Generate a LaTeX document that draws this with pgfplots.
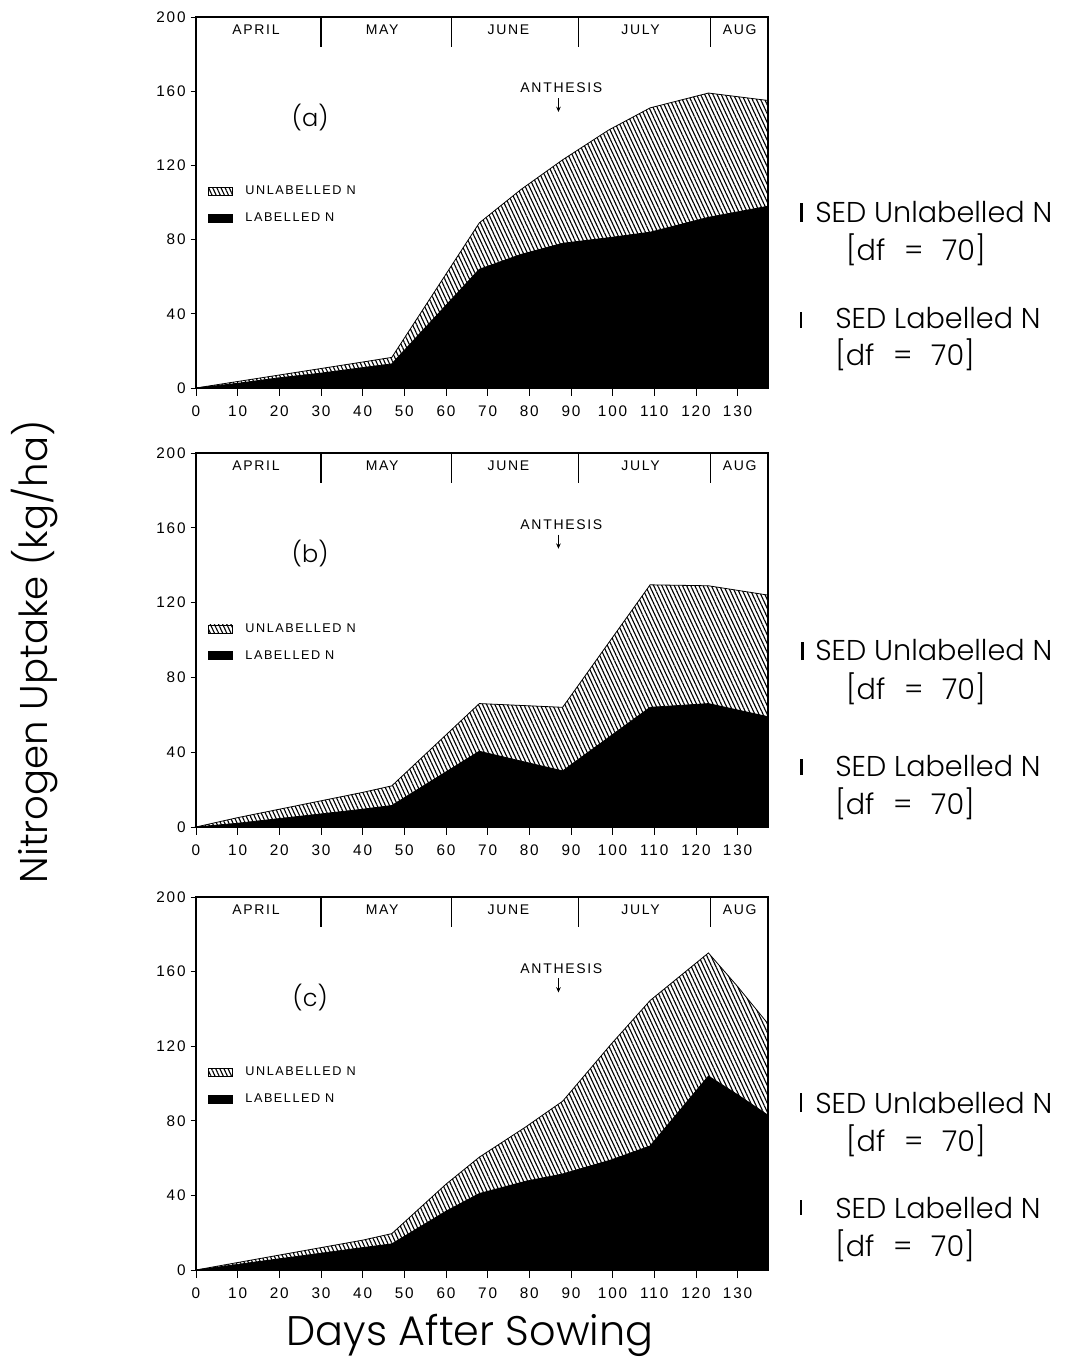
\documentclass[border=0pt]{standalone}
\usepackage{fontspec}
\setmainfont{Liberation Sans}
\IfFontExistsTF{Poppins Light}{\newfontfamily\gfont{Poppins Light}}{\newfontfamily\gfont{Poppins}}
\newfontfamily\spfont[LetterSpace=12]{Liberation Sans}
\usepackage{pgfplots}
\pgfplotsset{compat=1.18}
\usetikzlibrary{patterns.meta, arrows.meta}

\newcommand{\monthfont}{\spfont\fontsize{10.5}{12}\selectfont}
\newcommand{\sedfont}{\gfont\fontsize{21.5}{24}\selectfont}
\newcommand{\df}{[df\hspace{14pt}=\hspace{14pt}70]}
\tikzset{sed/.style={anchor=west, inner sep=0pt, font=\sedfont}}

\pgfplotsset{
  panel/.style={
    scale only axis, width=429pt,
    xmin=0, xmax=137.3, ymin=0, ymax=200,
    xtick={0,10,...,130}, ytick={0,40,...,200},
    tick align=outside, xtick pos=bottom, ytick pos=left,
    xtick style={/pgfplots/major tick length=6pt, line width=0.6pt, black},
    ytick style={/pgfplots/major tick length=4pt, line width=0.6pt, black},
    axis line style={line width=0.8pt},
    ticklabel style={font=\spfont\fontsize{11.5}{13}\selectfont},
    xticklabel style={yshift=-5.5pt},
    /pgf/number format/assume math mode=true,
    clip=false, axis on top,
    legend style={draw=none, fill=none, at={(0.014,0.557)}, anchor=north west,
      font=\spfont\fontsize{9.5}{11}\selectfont, row sep=9pt,
      nodes={inner sep=1.5pt},
      /tikz/every odd column/.append style={column sep=8pt}},
    legend cell align=left,
    legend image code/.code={\draw[#1, line width=0.4pt] (0pt,-3pt) rectangle (18pt,3pt);},
  },
  hatch/.style={draw=black, line width=0.6pt, pattern={Lines[angle=-65, distance=2.8pt, line width=0.85pt]}},
  solid/.style={draw=black, line width=0.6pt, fill=black},
  sedbar/.style={line width=2pt, forget plot},
}

\newcommand{\decor}[1]{%
  \foreach \m in {30,61.3,91.8,123.5}{%
    \edef\tmp{\noexpand\draw[line width=0.8pt] (axis cs:\m,184) -- (axis cs:\m,200);}\tmp}
  \node[font=\monthfont] at (axis cs:14.4,193) {APRIL};
  \node[font=\monthfont] at (axis cs:44.7,193) {MAY};
  \node[font=\monthfont] at (axis cs:75,193) {JUNE};
  \node[font=\monthfont] at (axis cs:106.7,193) {JULY};
  \node[font=\monthfont] at (axis cs:130.5,193) {AUG};
  \node[font=\monthfont] at (axis cs:87.7,161.7) {ANTHESIS};
  \draw[line width=0.8pt, -{Stealth[length=4pt,width=3.5pt]}] (axis cs:87,156.3) -- (axis cs:87,148.8);
  \node[font=\gfont\fontsize{18}{20}\selectfont] at (axis cs:27.4,146) {(#1)};
}

\begin{document}
\begin{tikzpicture}
\path[use as bounding box] (0,0) rectangle (798.75pt,1017.75pt);

% ---------------- (a)
\begin{axis}[panel, height=278.25pt, at={(147pt,726.75pt)}, anchor=south west]
\addplot[hatch] table {
x y
0 0
10 3.5
20 7
30 10.5
40 14
47 16.5
68 89
78 107
88 123
99 139
109 151
123 159
137.3 155
} \closedcycle;
\addlegendentry{UNLABELLED N}
\addplot[solid] table {
x y
0 0
10 2.5
20 5.5
30 8
40 11
47 13
68 64
78 72
88 78
99 81
109 84
123 92
137.3 98
} \closedcycle;
\addlegendentry{LABELLED N}
\decor{a}
\addplot[sedbar] coordinates {(145.4,89.5) (145.4,99.7)};
\addplot[sedbar] coordinates {(145.2,32.3) (145.2,41)};
\node[sed] at (axis cs:148.6,94.9) {SED Unlabelled N};
\node[sed] at (axis cs:156,74.4) {\df};
\node[sed] at (axis cs:153.4,37.7) {SED Labelled N};
\node[sed] at (axis cs:153.4,17.8) {\df};
\end{axis}

% ---------------- (b)
\begin{axis}[panel, height=280.5pt, at={(147pt,397.5pt)}, anchor=south west]
\addplot[hatch] table {
x y
0 0
10 5
20 9.5
30 14
40 18.5
47 22
68 66
88 64
109 129.5
123 129
137.3 124
} \closedcycle;
\addlegendentry{UNLABELLED N}
\addplot[solid] table {
x y
0 0
10 2
20 4.5
30 7
40 9.5
47 11.5
68 40.5
88 30
109 64
123 66
137.3 59
} \closedcycle;
\addlegendentry{LABELLED N}
\decor{b}
\addplot[sedbar] coordinates {(145.6,89.3) (145.6,99)};
\addplot[sedbar] coordinates {(145.4,27.8) (145.4,36.4)};
\node[sed] at (axis cs:148.6,94.7) {SED Unlabelled N};
\node[sed] at (axis cs:156,73.8) {\df};
\node[sed] at (axis cs:153.4,32.6) {SED Labelled N};
\node[sed] at (axis cs:153.4,12.3) {\df};
\end{axis}

% ---------------- (c)
\begin{axis}[panel, height=279.75pt, at={(147pt,65.25pt)}, anchor=south west]
\addplot[hatch] table {
x y
0 0
10 4
20 8
30 12
40 16
47 19.5
60 46
68 60.5
79 76.5
88 90.5
99.6 121
109 144.5
123 170
130 152
137.3 132
} \closedcycle;
\addlegendentry{UNLABELLED N}
\addplot[solid] table {
x y
0 0
10 3
20 6
30 9
40 12
47 14
60 31.5
68 41
79 47.5
88 51.5
99.6 59
109 66.5
123 104
130 94
137.3 83
} \closedcycle;
\addlegendentry{LABELLED N}
\decor{c}
\addplot[sedbar] coordinates {(145.2,84.7) (145.2,95)};
\addplot[sedbar] coordinates {(145.2,29.5) (145.2,37.5)};
\node[sed] at (axis cs:148.6,89.5) {SED Unlabelled N};
\node[sed] at (axis cs:156,69.2) {\df};
\node[sed] at (axis cs:153.4,33.2) {SED Labelled N};
\node[sed] at (axis cs:153.4,12.9) {\df};
\end{axis}

\node[font=\gfont\fontsize{29}{32}\selectfont, rotate=90] at (26.25pt,528.75pt) {Nitrogen Uptake (kg/ha)};
\node[font=\gfont\fontsize{31}{34}\selectfont] at (352.5pt,16.5pt) {Days After Sowing};
\end{tikzpicture}
\end{document}
